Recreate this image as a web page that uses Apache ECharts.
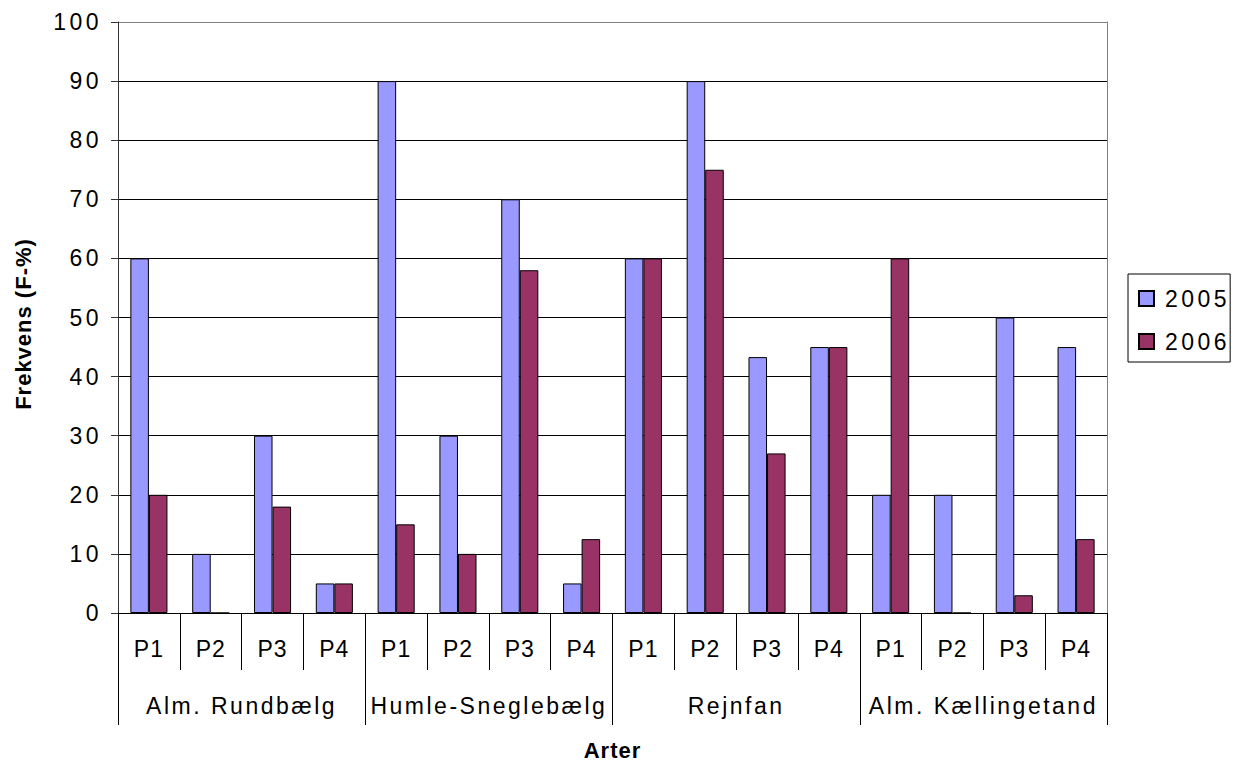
<!DOCTYPE html>
<html>
<head>
<meta charset="utf-8">
<script src="https://cdn.jsdelivr.net/npm/echarts@6/dist/echarts.min.js"></script>
<style>
  html, body { margin: 0; padding: 0; background: #fff; }
  #chart { width: 1239px; height: 766px; }
</style>
</head>
<body>
<div id="chart"></div>
<script>
// Frequency (F-%) of four species across plots P1–P4, 2005 vs 2006
const species = ['Alm. Rundbælg', 'Humle-Sneglebælg', 'Rejnfan', 'Alm. Kællingetand'];
const plots = ['P1', 'P2', 'P3', 'P4'];
const values2005 = [60, 10, 30, 5,   90, 30, 70, 5,    60, 90, 43.3, 45,   20, 20, 50, 45];
const values2006 = [20, 0, 18, 5,    15, 10, 58, 12.5, 60, 75, 27, 45,     60, 0, 3, 12.5];
const yTicks = [0, 10, 20, 30, 40, 50, 60, 70, 80, 90, 100];
const yTitle = 'Frekvens (F-%)';
const xTitle = 'Arter';

// one category per species/plot combination
const categories = [];
species.forEach(() => plots.forEach(p => categories.push(p)));

const FONT = 'Liberation Sans, Arial, sans-serif';

// grid lines: black inside the plot, grey frame line at the top
const gridColors = yTicks.map((v, i) => (i === yTicks.length - 1 ? '#808080' : '#000000'));

const chart = echarts.init(document.getElementById('chart'), null, { renderer: 'svg', width: 1239, height: 766 });
chart.setOption({
  animation: false,
  backgroundColor: '#ffffff',
  textStyle: { fontFamily: FONT },
  grid: { left: 118, top: 22, width: 989, height: 593, containLabel: false },
  legend: {
    orient: 'vertical',
    left: 1128,
    top: 274,
    itemWidth: 15,
    itemHeight: 15,
    itemGap: 20,
    padding: [13, 14, 9, 10],
    borderColor: '#000',
    borderWidth: 1,
    icon: 'rect',
    textStyle: { fontSize: 23, color: '#000', fontFamily: FONT, padding: [0, 0, 0, 6] },
    data: ['2005', '2006']
  },
  xAxis: [
    {
      type: 'category',
      data: categories,
      position: 'bottom',
      axisLine: { show: true, lineStyle: { color: '#000', width: 1 } },
      axisTick: { show: true, interval: 0, length: 57, lineStyle: { color: '#000' } },
      axisLabel: { interval: 0, fontSize: 23, color: '#000', margin: 24, fontFamily: FONT },
      splitLine: { show: false },
      name: xTitle,
      nameLocation: 'middle',
      nameGap: 126,
      nameTextStyle: { fontSize: 22, fontWeight: 'bold', color: '#000', fontFamily: FONT }
    },
    {
      type: 'category',
      data: species,
      position: 'bottom',
      gridIndex: 0,
      axisLine: { show: false },
      axisTick: { show: true, interval: 0, length: 112, lineStyle: { color: '#000' } },
      axisLabel: { interval: 0, hideOverlap: false, fontSize: 23, color: '#000', margin: 81, fontFamily: FONT },
      splitLine: { show: false }
    }
  ],
  yAxis: [
    {
      type: 'value',
      min: 0,
      max: 100,
      interval: 10,
      axisLine: { show: true, lineStyle: { color: '#333', width: 1 } },
      axisTick: { show: true, length: 7, lineStyle: { color: '#333' } },
      axisLabel: {
        fontSize: 23, color: '#000', margin: 16, fontFamily: FONT,
        formatter: v => (yTicks.indexOf(v) >= 0 ? String(v) : '')
      },
      splitLine: { show: true, lineStyle: { color: gridColors, width: 1 } },
      name: yTitle,
      nameLocation: 'middle',
      nameGap: 84,
      nameTextStyle: { fontSize: 22, fontWeight: 'bold', color: '#000', fontFamily: FONT, padding: [0, 13, 0, 0] }
    },
    {
      // right-hand frame line of the plot area
      type: 'value',
      position: 'right',
      min: 0,
      max: 100,
      interval: 10,
      axisLine: { show: true, lineStyle: { color: '#808080', width: 1 } },
      axisTick: { show: false },
      axisLabel: { show: false },
      splitLine: { show: false }
    }
  ],
  series: [
    {
      name: '2005',
      type: 'bar',
      xAxisIndex: 0,
      yAxisIndex: 0,
      data: values2005,
      barGap: '0%',
      barCategoryGap: '40%',
      itemStyle: { color: '#9999FF', borderColor: '#000', borderWidth: 1 }
    },
    {
      name: '2006',
      type: 'bar',
      xAxisIndex: 0,
      yAxisIndex: 0,
      data: values2006,
      barGap: '0%',
      barCategoryGap: '40%',
      itemStyle: { color: '#993366', borderColor: '#000', borderWidth: 1 }
    }
  ]
});

// widen the letter spacing of the rendered labels (numbers a little more than words)
function spaceLetters() {
  document.querySelectorAll('#chart text').forEach(t => {
    const s = t.textContent;
    let ls = '2.5px';
    if (s === xTitle || s === yTitle) ls = '1px';
    else if (plots.indexOf(s) >= 0) ls = '1px';
    else if (/^\d+$/.test(s)) ls = '3.5px';
    t.setAttribute('letter-spacing', ls);
    t.style.letterSpacing = ls;
  });
}
spaceLetters();
chart.on('finished', spaceLetters);
</script>
</body>
</html>
